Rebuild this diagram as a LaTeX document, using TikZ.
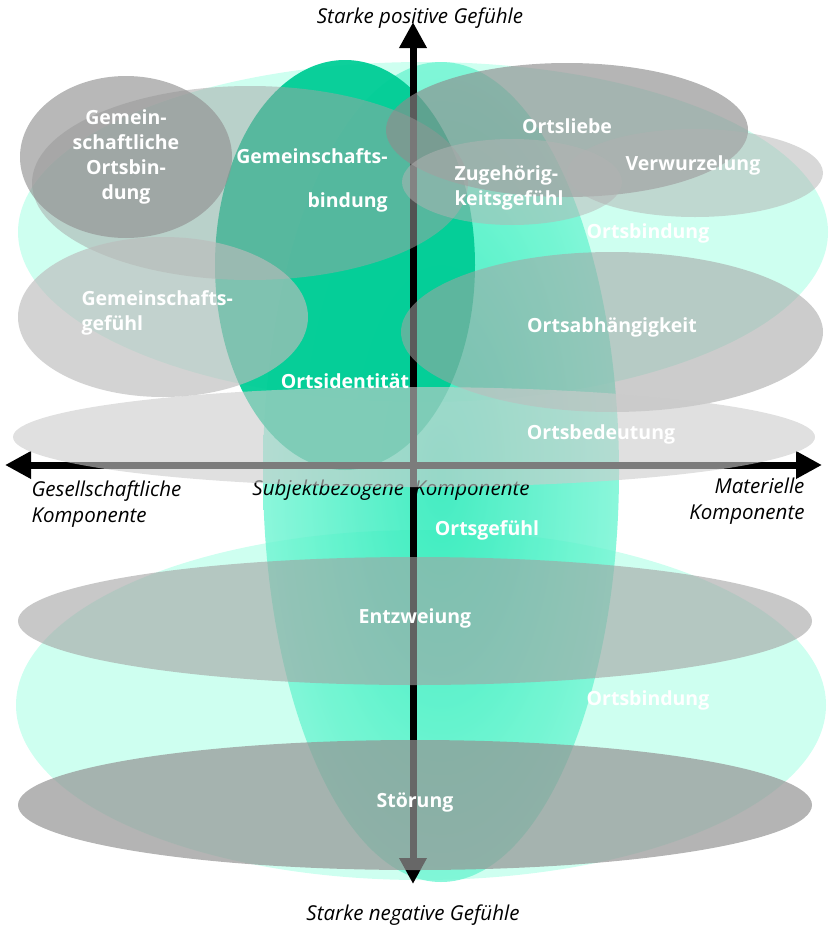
\documentclass[tikz,border=0pt]{standalone}
\usepackage{fontspec}
\setmainfont{Open Sans}
\usetikzlibrary{arrows.meta}
\definecolor{mintlight}{RGB}{190,255,235}
\definecolor{mintmid}{RGB}{20,232,178}
\definecolor{mintpale}{RGB}{110,245,210}
\definecolor{mintdark}{RGB}{0,205,150}
\begin{document}
\begin{tikzpicture}[x=1pt, y=-1pt,
  every node/.style={font=\fontsize{19.5}{25}\selectfont},
  zone/.style 2 args={fill={rgb,255:red,#1;green,#1;blue,#1}, fill opacity=#2},
  term/.style={text=white, font=\bfseries\fontsize{19.5}{25}\selectfont},
  pole/.style={font=\itshape\fontsize{20.5}{26}\selectfont},
  axis/.style={line width=7pt, {Triangle[length=26pt,width=26pt]}-{Triangle[length=26pt,width=26pt]}}]
  \useasboundingbox (0,0) rectangle (829,929);

  % place attachment, positive and negative
  \fill[mintlight, fill opacity=0.75] (423,232) ellipse [x radius=405pt, y radius=170pt];
  \fill[mintlight, fill opacity=0.75] (421,705) ellipse [x radius=405pt, y radius=175pt];

  % sense of place and identity
  \shade[inner color=mintmid, outer color=mintpale, fill opacity=0.8] (441,472) ellipse [x radius=178pt, y radius=410pt];
  \fill[mintdark, fill opacity=0.95] (345,265) ellipse [x radius=130pt, y radius=205pt];

  % axes
  \coordinate (north) at (413,22);
  \coordinate (south) at (413,884);
  \coordinate (west) at (5,465);
  \coordinate (east) at (822,465);
  \draw[axis] (south) -- (north);
  \draw[axis] (west) -- (east);

  \node[pole] (pos) at (420,18) {Starke positive Gefühle};
  \node[pole] (neg) at (413,915) {Starke negative Gefühle};
  \node[pole, anchor=north west, align=left] (soc) at (28,477) {Gesellschaftliche\\Komponente};
  \node[pole, anchor=north east, align=right] (mat) at (808,474) {Materielle\\Komponente};
  \node[pole] (subj) at (391,490) {Subjektbezogene\hspace{0.5em}Komponente};

  % grey zones
  \fill[zone={164}{0.5}] (250,183) ellipse [x radius=218pt, y radius=97pt];
  \fill[zone={146}{0.65}] (126,157) ellipse [x radius=106pt, y radius=81pt];
  \fill[zone={141}{0.65}] (567,130) ellipse [x radius=181pt, y radius=67pt];
  \fill[zone={180}{0.5}] (512,182) ellipse [x radius=110pt, y radius=43pt];
  \fill[zone={177}{0.5}] (695,173) ellipse [x radius=128pt, y radius=44pt];
  \fill[zone={188}{0.66}] (163,317) ellipse [x radius=145pt, y radius=80pt];
  \fill[zone={164}{0.56}] (612,332) ellipse [x radius=211pt, y radius=80pt];
  \fill[zone={204}{0.61}] (414,437) ellipse [x radius=401pt, y radius=50pt];
  \fill[zone={163}{0.6}] (415,621) ellipse [x radius=397pt, y radius=64pt];
  \fill[zone={148}{0.7}] (415,805) ellipse [x radius=397pt, y radius=65pt];

  % terms
  \node[term, align=center] (gob) at (126,157) {Gemein-\\schaftliche\\Ortsbin-\\dung};
  \node[term, align=right] (gbind) at (312,180) {Gemeinschafts-\\[19pt]bindung};
  \node[term] (liebe) at (567,126) {Ortsliebe};
  \node[term] (wurzel) at (693,165) {Verwurzelung};
  \node[term, align=left, anchor=west] (zug) at (451,188) {Zugehörig-\\keitsgefühl};
  \node[term] (bindup) at (648,233) {Ortsbindung};
  \node[term, align=left, anchor=west] (ggef) at (78,313) {Gemeinschafts-\\gefühl};
  \node[term] (abh) at (612,327) {Ortsabhängigkeit};
  \node[term] (ident) at (345,381) {Ortsidentität};
  \node[term] (bedeut) at (601,434) {Ortsbedeutung};
  \node[term] (gefuehl) at (487,530) {Ortsgefühl};
  \node[term] (entzw) at (415,618) {Entzweiung};
  \node[term] (binddown) at (648,700) {Ortsbindung};
  \node[term] (stoer) at (415,802) {Störung};
\end{tikzpicture}
\end{document}
